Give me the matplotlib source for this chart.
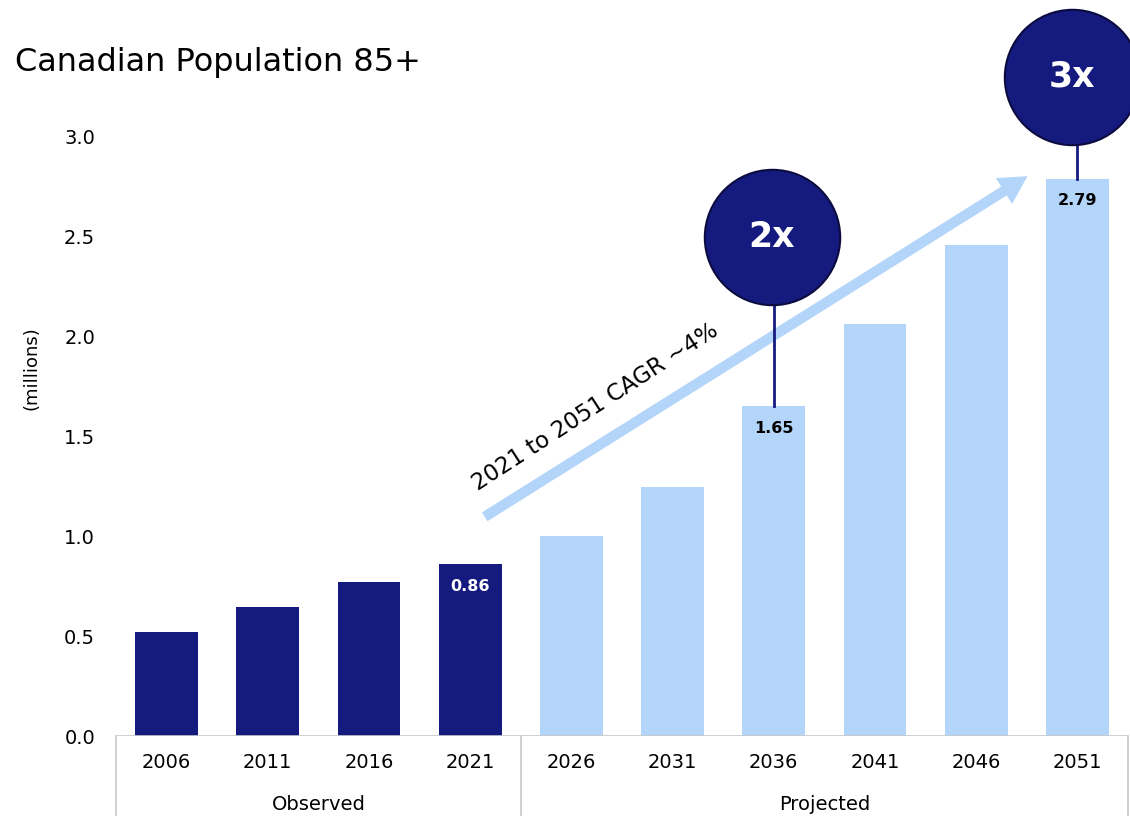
import matplotlib.pyplot as plt
from matplotlib.transforms import blended_transform_factory

years = ['2006', '2011', '2016', '2021', '2026', '2031', '2036', '2041', '2046', '2051']
pop = [0.52, 0.645, 0.77, 0.86, 1.00, 1.245, 1.65, 2.065, 2.46, 2.79]
observed = [True, True, True, True, False, False, False, False, False, False]
labels = {3: '0.86', 6: '1.65', 9: '2.79'}
groups = ['Observed', 'Projected']
multiples = {6: '2x', 9: '3x'}

NAVY = '#151b7e'
LIGHT = '#b4d5fa'
GRID = '#c8c8c8'

plt.rcParams['font.family'] = 'DejaVu Sans'

fig = plt.figure(figsize=(11.3, 8.16), dpi=100)
ax = fig.add_axes([116 / 1130, 80 / 816, 1012 / 1130, 736 / 816])

x = list(range(len(years)))
cols = [NAVY if o else LIGHT for o in observed]
ax.bar(x, pop, width=0.62, color=cols, zorder=2)

ax.set_xlim(-0.5, 9.5)
ax.set_ylim(0, 3.685)
ax.set_yticks([0, 0.5, 1.0, 1.5, 2.0, 2.5, 3.0])
ax.set_yticklabels(['0.0', '0.5', '1.0', '1.5', '2.0', '2.5', '3.0'], fontsize=14)
ax.set_xticks(x)
ax.set_xticklabels(years, fontsize=14)
ax.tick_params(length=0)
ax.tick_params(axis='x', pad=12)
ax.tick_params(axis='y', pad=15)
for s in ax.spines.values():
    s.set_visible(False)
ax.axhline(0, color=GRID, lw=1.2, zorder=3)
ax.set_ylabel('(millions)', fontsize=13, labelpad=17)

# bottom category table
tr = blended_transform_factory(ax.transData, ax.transAxes)
for sx in [-0.5, 3.5, 9.5]:
    ax.plot([sx, sx], [0, -0.11], color=GRID, lw=1.2, transform=tr, clip_on=False)
ax.text(1.5, -0.093, groups[0], transform=tr, ha='center', va='center', fontsize=14)
ax.text(6.5, -0.093, groups[1], transform=tr, ha='center', va='center', fontsize=14)

# value labels
for i, t in labels.items():
    c = 'white' if observed[i] else 'black'
    ax.text(i, pop[i] - 0.11, t, ha='center', va='center', fontsize=11.5,
            fontweight='bold', color=c, zorder=4)

# CAGR arrow
ax.annotate('', xy=(8.53, 2.81), xytext=(3.12, 1.09),
            arrowprops=dict(arrowstyle='simple,head_width=2.2,head_length=2.0,tail_width=0.75',
                            color=LIGHT, lw=0), zorder=1)
ax.text(4.24, 1.645, '2021 to 2051 CAGR ~4%', rotation=33, ha='center', va='center',
        fontsize=16.5, rotation_mode='anchor')

# multiple bubbles
circ_y = {6: 2.50, 9: 3.30}
circ_dx = {6: -0.02, 9: -0.05}
for i, t in multiples.items():
    cx = i + circ_dx[i]
    ax.plot([i, i], [pop[i], circ_y[i]], color=NAVY, lw=2, zorder=3)
    ax.scatter([cx], [circ_y[i]], s=9500, color=NAVY, edgecolors='#0b0b40',
               linewidths=1.5, zorder=5, clip_on=False)
    ax.text(cx, circ_y[i], t, ha='center', va='center', fontsize=25,
            fontweight='bold', color='white', zorder=6)

fig.text(15 / 1130, 1 - 62 / 816, 'Canadian Population 85+', fontsize=23,
         ha='left', va='center')

fig.savefig('out.png', dpi=100)
